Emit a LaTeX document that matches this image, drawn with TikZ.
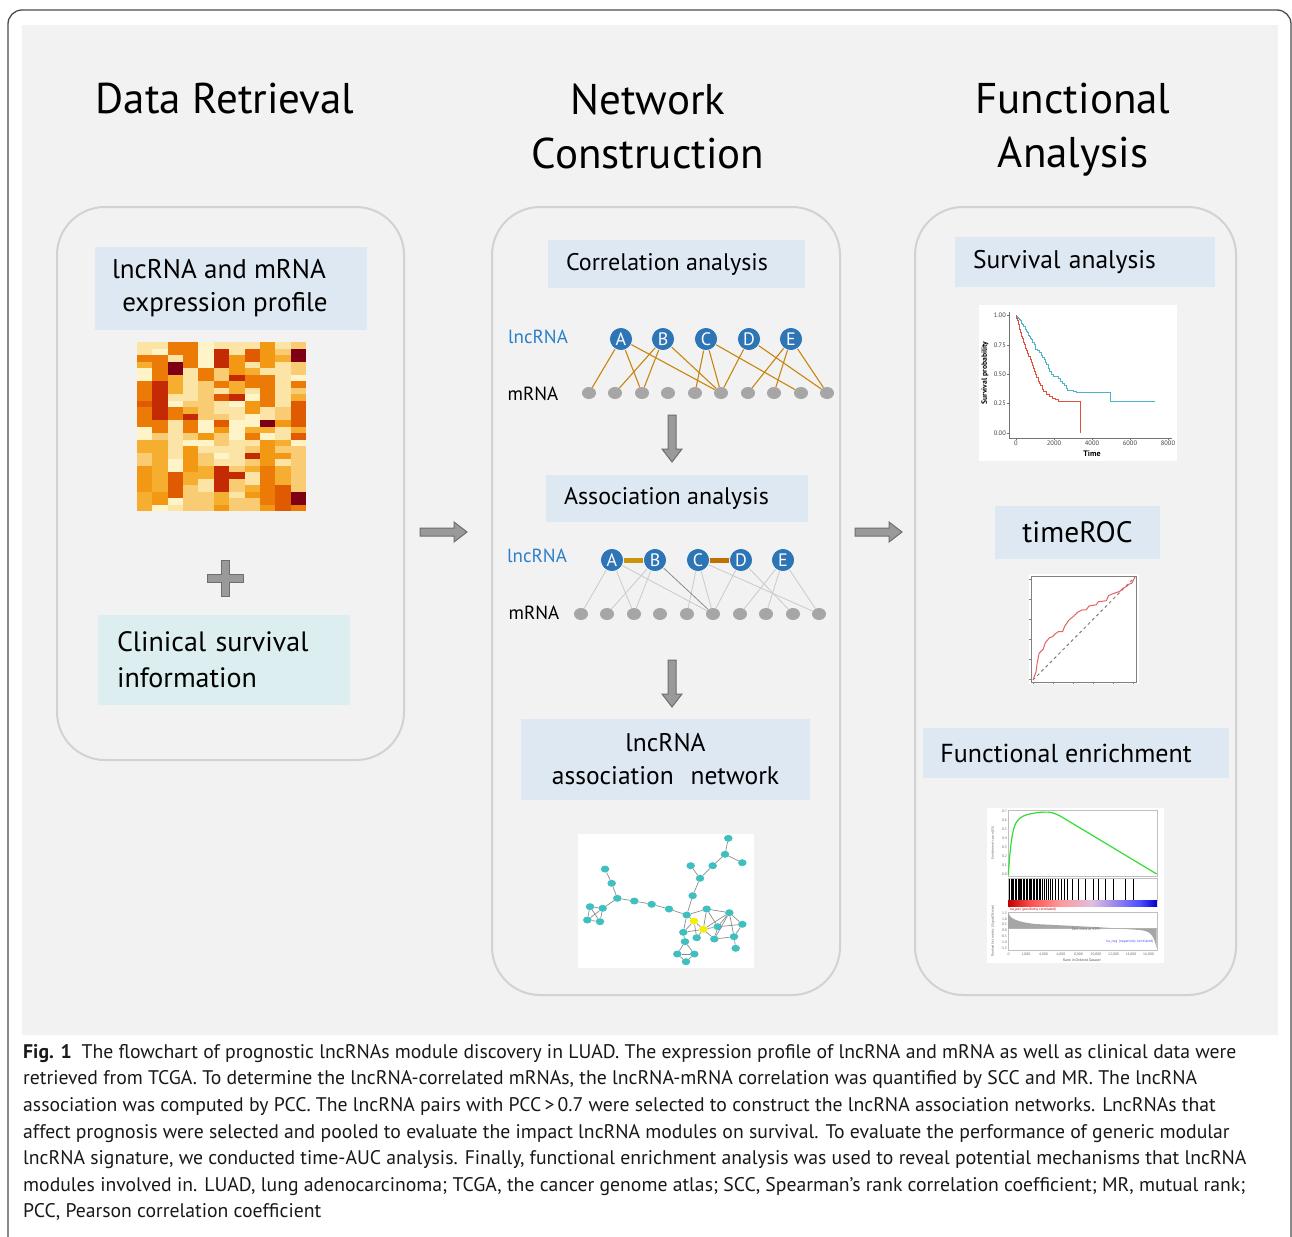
\documentclass[tikz,border=0pt]{standalone}
\usepackage{fontspec}
\setmainfont{PT Sans}
\usetikzlibrary{shapes.geometric}

\definecolor{panelgray}{HTML}{F2F2F2}
\definecolor{boxline}{HTML}{D2D2D2}
\definecolor{labelblue}{HTML}{DDE8F3}
\definecolor{labelcyan}{HTML}{DCEEF0}
\definecolor{nodeblue}{HTML}{2E75B6}
\definecolor{lncblue}{HTML}{2A7FC9}
\definecolor{edgeorange}{HTML}{C8860F}
\definecolor{bargold}{HTML}{C8960A}
\definecolor{barorange}{HTML}{C07000}
\definecolor{dotgray}{HTML}{A6A6A6}
\definecolor{lightedge}{HTML}{CACACA}
\definecolor{arrowfill}{HTML}{9A9A9A}
\definecolor{arrowline}{HTML}{6E6E6E}
\definecolor{kmblue}{HTML}{4FB3C8}
\definecolor{kmred}{HTML}{E0503C}
\definecolor{rocred}{HTML}{E36464}
\definecolor{gteal}{HTML}{3FBFC0}
\definecolor{gyellow}{HTML}{F2F200}
\definecolor{gseagreen}{HTML}{33DD33}
% heat map palette, pale to dark
\definecolor{hm1}{HTML}{FFF3C8}
\definecolor{hm2}{HTML}{FCE3A6}
\definecolor{hm3}{HTML}{F9CB72}
\definecolor{hm4}{HTML}{F6AE30}
\definecolor{hm5}{HTML}{F39812}
\definecolor{hm6}{HTML}{EC7A06}
\definecolor{hm7}{HTML}{E05A02}
\definecolor{hm8}{HTML}{C42A04}
\definecolor{hm9}{HTML}{7D0014}

\tikzset{
  frameline/.style={draw=black!70, line width=1.3pt, rounded corners=14pt},
  stagebox/.style={draw=boxline, line width=2pt, rounded corners=48pt, inner sep=0pt},
  stagetitle/.style={font=\fontsize{43}{54}\selectfont, align=center, inner sep=0pt},
  lbl/.style={fill=labelblue, inner sep=0pt, font=\fontsize{25.5}{33}\selectfont, align=center},
  lncnode/.style={circle, fill=nodeblue, draw=white, line width=0.6pt, minimum size=23pt, inner sep=0pt,
                  text=white, font=\fontsize{18}{18}\selectfont},
  mdot/.style={ellipse, fill=dotgray, minimum width=14pt, minimum height=12pt, inner sep=0pt},
  rowlabel/.style={font=\fontsize{19}{19}\selectfont, inner sep=0pt},
  corredge/.style={draw=edgeorange, line width=1.1pt},
  assocedge/.style={draw=lightedge, line width=0.8pt},
  gnode/.style={ellipse, minimum width=8.5pt, minimum height=7pt, inner sep=0pt},
  gedge/.style={draw=black!45, line width=0.7pt},
  ticklab/.style={font=\fontsize{6.5}{7}\selectfont, text=black!75, inner sep=1pt},
  tinylab/.style={font=\fontsize{3.6}{4}\selectfont, text=black!60, inner sep=0.5pt},
  blockarrow/.pic={
    \filldraw[fill=arrowfill, draw=arrowline, line width=1pt]
      (0,-4) -- (34,-4) -- (34,-10) -- (47,0) -- (34,10) -- (34,4) -- (0,4) -- cycle;
  },
}

\begin{document}
\begin{tikzpicture}[x=1pt,y=-1pt]
\useasboundingbox (0,0) rectangle (1292,1236);
\fill[white] (0,0) rectangle (1292,1236);

% outer frame and grey panel
\draw[frameline] (8,1250) -- (8,10) -- (1291,10) -- (1291,1250);
\fill[panelgray] (22,25) rectangle (1278,1035);

% ---------- stage titles ----------
\node[stagetitle] (tData) at (225,99) {Data Retrieval};
\node[stagetitle] (tNet)  at (648,126) {Network\\Construction};
\node[stagetitle] (tFun)  at (1073,130) {Functional\\Analysis};

% ---------- stage boxes ----------
\node[stagebox, minimum width=347pt, minimum height=553pt] (boxData) at (230.5,483.5) {};
\node[stagebox, minimum width=348pt, minimum height=788pt] (boxNet)  at (666,601) {};
\node[stagebox, minimum width=321pt, minimum height=788pt] (boxFun)  at (1075.5,601) {};

% ---------- data retrieval ----------
\node[lbl, font=\fontsize{27}{33}\selectfont, minimum width=272pt, minimum height=83pt] (lbExpr) at (231,288)
  {lncRNA and mRNA\hspace*{24pt}\\expression profile\hspace*{12pt}};

% expression heat map
\pgfmathsetseed{23}
\foreach \c in {0,...,10}{
  \xdef\hmprev{2}
  \foreach \r in {0,...,25}{
    \pgfmathrandominteger{\hmroll}{0}{9}
    \ifnum\hmroll<6
      \pgfmathrandominteger{\hmk}{0}{29}
      \pgfmathtruncatemacro\hmnew{{1,1,1,1,2,2,2,2,2,2,3,3,3,3,4,4,4,4,5,5,5,5,6,6,6,7,7,3,8,9}[\hmk]}
      \xdef\hmprev{\hmnew}
    \fi
    \fill[hm\hmprev] (137+\c*15.36, 342+\r*6.5) rectangle ++(15.6,6.7);
  }
}

% plus sign
\node[inner sep=0pt] (plus) at (225,578) {};
\filldraw[fill=arrowfill, draw=arrowline, line width=1pt]
  (221,560) -- (229,560) -- (229,574) -- (243,574) -- (243,582) -- (229,582) -- (229,596)
  -- (221,596) -- (221,582) -- (207,582) -- (207,574) -- (221,574) -- cycle;

\node[lbl, fill=labelcyan, font=\fontsize{28}{36}\selectfont, minimum height=90pt, text width=214pt,
  inner xsep=19pt, align=left] (lbClin) at (224,660) {Clinical survival\\information};

% ---------- stage arrows ----------
\coordinate (arrA) at (420,532);
\coordinate (arrB) at (855,532);
\pic at (arrA) {blockarrow};
\pic at (arrB) {blockarrow};

% ---------- network construction ----------
\node[lbl, font=\fontsize{24}{30}\selectfont, minimum width=257pt, minimum height=48pt] (lbCorr)
  at (676.5,264) {Correlation analysis\hspace*{19pt}};

\node[rowlabel, text=lncblue] (cLnc) at (538,337) {lncRNA};
\node[rowlabel] (cMrna) at (533,394) {mRNA};
\foreach \n/\x in {A/621,B/663,C/706,D/749,E/791}
  \node[lncnode] (c\n) at (\x,339) {\n};
\foreach \i/\x in {1/589,2/615,3/642,4/668,5/695,6/721,7/748,8/774,9/801,10/827}
  \node[mdot] (cm\i) at (\x,393) {};
\foreach \a/\b in {A/1,A/3,A/6,B/2,B/3,B/6,C/5,C/6,C/9,D/6,D/10,E/7,E/8,E/10}
  \draw[corredge] (c\a) -- (cm\b);

\coordinate (downA) at (672,415);
\pic[rotate=-90] at (downA) {blockarrow};

\node[lbl, font=\fontsize{24}{30}\selectfont, minimum width=262pt, minimum height=47pt] (lbAssoc)
  at (677,498.5) {Association analysis\hspace*{21pt}};

\node[rowlabel, text=lncblue] (aLnc) at (537,556) {lncRNA};
\node[rowlabel] (aMrna) at (534,613) {mRNA};
\foreach \n/\x in {A/612,B/655,C/698,D/741,E/783}
  \node[lncnode] (a\n) at (\x,560) {\n};
\foreach \i/\x in {1/581,2/607,3/634,4/660,5/687,6/713,7/740,8/766,9/793,10/819}
  \node[mdot] (am\i) at (\x,614) {};
\foreach \a/\b in {A/1,A/3,A/6,B/2,B/3,C/5,C/6,C/10,D/6,D/9,E/7,E/8,E/10}
  \draw[assocedge] (a\a) -- (am\b);
\draw[assocedge, draw=black!45] (aB) -- (am6);
\draw[draw=bargold, line width=5pt] (aA) -- (aB);
\draw[draw=barorange, line width=5pt] (aC) -- (aD);

\coordinate (downB) at (672,660);
\pic[rotate=-90] at (downB) {blockarrow};

\node[lbl, minimum width=289pt, minimum height=81pt] (lbNet) at (665.5,759.5)
  {lncRNA\\association\hspace{10pt} network};

% lncRNA association network
\fill[white] (578,834) rectangle (754,968);
\foreach \n/\x/\y/\c in {
  1/605/869/gteal, 2/611.7/883.3/gteal, 3/617.3/898.3/gteal, 4/590/906.7/gteal,
  5/602.7/908.3/gteal, 6/587.3/920/gteal, 7/600/921.7/gteal, 8/634.3/901/gteal,
  9/651.7/904.3/gteal, 10/669/909/gteal, 11/686.7/915/gteal, 12/692.7/895.7/gteal,
  13/700/878.3/gteal, 14/690.7/865.7/gteal, 15/712.7/865.7/gteal, 16/725/854.3/gteal,
  17/728.3/838.3/gteal, 18/742.3/862.7/gteal, 19/706.7/909/gteal, 20/694/921/gyellow,
  21/703.3/929.3/gyellow, 22/683.3/932.3/gteal, 23/696.7/937.7/gteal, 24/717.7/926.7/gteal,
  25/729.3/912.7/gteal, 26/742.3/924.3/gteal, 27/714.3/939/gteal, 28/734/936.7/gteal,
  29/735.7/948.3/gteal, 30/685/941.7/gteal, 31/677.3/954/gteal, 32/694.3/954/gteal,
  33/686/961.7/gteal}
  \node[gnode, fill=\c] (g\n) at (\x,\y) {};
\foreach \a/\b in {1/2,2/3,3/5,3/8,4/5,4/6,4/7,5/6,5/7,6/7,8/9,9/10,10/11,11/12,12/13,
  13/14,13/15,15/16,16/17,16/18,11/19,11/20,11/22,20/21,19/25,19/24,20/22,21/22,21/23,
  21/24,21/25,24/25,25/26,24/26,24/27,25/27,27/28,25/28,28/29,26/28,22/30,30/31,30/32,
  31/32,31/33,32/33,21/27,20/23,19/21}
  \draw[gedge] (g\a) -- (g\b);

% ---------- functional analysis ----------
\node[lbl, minimum height=50pt, text width=224pt, inner xsep=18pt, align=left]
  (lbSurv) at (1085,262) {Survival analysis};

% Kaplan-Meier plot
\fill[white] (979,305) rectangle (1177,461);
\draw[black!55, line width=0.6pt] (1009,312) -- (1009,438) -- (1172,438);
\foreach \v/\yy in {1.00/315,0.75/345,0.50/374,0.25/403,0.00/433}{
  \draw[black!55, line width=0.6pt] (1007,\yy) -- (1009,\yy);
  \node[ticklab, anchor=east] at (1007,\yy) {\v};
}
\foreach \t in {0,2000,4000,6000,8000}{
  \draw[black!55, line width=0.6pt] (1016+\t*0.019,438) -- (1016+\t*0.019,440);
  \node[ticklab, anchor=north] at (1016+\t*0.019,440) {\t};
}
\node[font=\bfseries\fontsize{8}{8}\selectfont, inner sep=0pt] (kmTime) at (1092,453.5) {Time};
\node[font=\bfseries\fontsize{7.6}{8}\selectfont, inner sep=0pt, rotate=90] (kmY) at (985,373) {Survival probability};
\begin{scope}[shift={(1016,433)}, x=0.019pt, y=118pt]
  \draw[kmblue, line width=1pt] (0,1) -| (50,.99) -| (100,.98) -| (150,.97) -| (200,.96) -| (260,.95)
    -| (300,.93) -| (360,.92) -| (420,.90) -| (480,.88) -| (540,.86) -| (600,.85) -| (650,.83)
    -| (700,.82) -| (760,.80) -| (820,.79) -| (880,.77) -| (950,.75) -| (1000,.73) -| (1050,.71)
    -| (1150,.70) -| (1250,.68) -| (1320,.66) -| (1400,.64) -| (1480,.62) -| (1550,.60)
    -| (1620,.58) -| (1700,.55) -| (1780,.52) -| (1850,.50) -| (1950,.48) -| (2250,.46)
    -| (2350,.44) -| (2450,.42) -| (2550,.40) -| (2650,.38) -| (2700,.36) -| (3000,.35)
    -| (3200,.34) -| (4950,.27) -- (7300,.27);
  \draw[kmred, line width=1pt] (0,1) -| (40,.97) -| (80,.95) -| (120,.92) -| (160,.90) -| (200,.88)
    -| (250,.85) -| (300,.82) -| (350,.80) -| (400,.77) -| (450,.75) -| (500,.72) -| (560,.70)
    -| (620,.67) -| (680,.65) -| (740,.62) -| (800,.60) -| (860,.57) -| (920,.55) -| (980,.52)
    -| (1040,.50) -| (1100,.47) -| (1160,.44) -| (1220,.42) -| (1300,.40) -| (1380,.37)
    -| (1460,.35) -| (1600,.33) -| (1750,.31) -| (1900,.29) -| (2100,.28) -| (2250,.27)
    -| (3370,0);
\end{scope}

\node[lbl, font=\fontsize{29.5}{33}\selectfont, minimum width=165pt, minimum height=53pt] (lbROC)
  at (1077.5,532) {timeROC};

% time-dependent ROC curve
\fill[white] (1029,574) rectangle (1139,684);
\draw[black!50, line width=0.6pt] (1031,576) rectangle (1136,682);
\foreach \k in {0,...,5}{
  \draw[black!50, line width=0.5pt] (1033+\k*20,682) -- (1033+\k*20,684);
  \draw[black!50, line width=0.5pt] (1031,679-\k*20) -- (1029,679-\k*20);
}
\draw[black!50, line width=1pt, dash pattern=on 3pt off 3pt] (1033,680) -- (1135,577);
\begin{scope}[shift={(1033,680)}, x=102pt, y=103pt]
  \draw[rocred, line width=1pt] (0,0) -- (0.03,0.08) -- (0.04,0.16) -- (0.06,0.26) -- (0.1,0.3)
    -- (0.12,0.36) -- (0.16,0.41) -- (0.19,0.42) -- (0.22,0.45) -- (0.25,0.47) -- (0.29,0.47)
    -- (0.31,0.52) -- (0.35,0.58) -- (0.4,0.62) -- (0.44,0.66) -- (0.48,0.68) -- (0.52,0.68)
    -- (0.55,0.72) -- (0.62,0.73) -- (0.64,0.76) -- (0.72,0.77) -- (0.74,0.82) -- (0.79,0.84)
    -- (0.85,0.86) -- (0.88,0.89) -- (0.92,0.91) -- (0.94,0.93) -- (0.97,0.94) -- (1,1);
\end{scope}

\node[lbl, font=\fontsize{26}{30}\selectfont, minimum width=306pt, minimum height=50pt] (lbFunc)
  at (1076,753) {Functional enrichment\hspace*{20pt}};

% GSEA enrichment plot
\fill[white] (987,808) rectangle (1164,963);
\draw[black!25, line width=0.4pt] (1008,810) rectangle (1157,876);
\foreach \v [count=\k from 0] in {0.7,0.6,0.5,0.4,0.3,0.2,0.1,0.0}
  \node[tinylab, anchor=east] at (1007.5,811+\k*9.1) {\v};
\draw[gseagreen, line width=1.2pt] (1008.3,875) .. controls (1010,850) and (1012,828) .. (1016.7,821.7)
  .. controls (1020,816.5) and (1026,814.5) .. (1032,813.5)
  .. controls (1040,812) and (1048,811.5) .. (1052,812.7)
  .. controls (1058,814.5) and (1062,817) .. (1064,818.3) -- (1156.7,874);
\draw[black!25, line width=0.4pt] (1008,878) rectangle (1157,900);
\foreach \xx in {1009.5,1011,1012.2,1013.5,1015,1016.3,1017.8,1019,1020.3,1021.6,1023,1024.5,1026,
  1027.2,1028.8,1030.1,1031.5,1033,1034.3,1035.8,1037.5,1039,1040.6,1042.4,1044,1046,1048,1050,
  1052.5,1055,1058,1061,1064,1067,1072,1078,1085,1093,1098,1105,1113,1125,1133}
  \draw[black, line width=0.45pt] (\xx,879) -- (\xx,900);
\shade[left color=red!75!black, right color=red!70] (1008,900) rectangle (1030,906);
\shade[left color=red!70, right color=pink!80!red] (1030,900) rectangle (1060,906);
\shade[left color=pink!80!red, right color=violet!25] (1060,900) rectangle (1092,906);
\shade[left color=violet!25, right color=blue!70] (1092,900) rectangle (1140,906);
\shade[left color=blue!70, right color=blue!80!black] (1140,900) rectangle (1157,906);
\node[tinylab, text=red!70!black, anchor=west] at (1009,909) {`na\_pos' (positively correlated)};
\draw[black!25, line width=0.4pt] (1008,912) rectangle (1157,950);
\fill[black!35] (1008,928) -- (1008,913) .. controls (1010,919) and (1018,922) .. (1035,924)
  -- (1100,927.3) -- (1140,930) .. controls (1150,931) and (1154,935) .. (1156.5,948) -- (1156.5,928) -- cycle;
\draw[black!30, line width=0.3pt] (1008,928) -- (1157,928);
\node[tinylab] at (1086,929.5) {Zero cross at 4395};
\node[tinylab, text=blue!70, anchor=east] at (1154,941) {`na\_neg' (negatively correlated)};
\foreach \v [count=\k from 0] in {1.5,1.0,0.5,0.0,-0.5,-1.0,-1.5}
  \node[tinylab, anchor=east] at (1007.5,913+\k*5.8) {\v};
\foreach \t [count=\k from 0] in {0,{2,000},{4,000},{6,000},{8,000},{10,000},{12,000},{14,000},{16,000}}
  \node[tinylab] at (1008.5+\k*17.5,954.5) {\t};
\node[tinylab, text=black!70] (gseaX) at (1082,960.5) {Rank in Ordered Dataset};
\node[tinylab, rotate=90] (gseaY1) at (993,843) {Enrichment score (ES)};
\node[tinylab, rotate=90] (gseaY2) at (993,931) {Ranked list metric (Signal2Noise)};

% ---------- caption ----------
\node[anchor=north west, inner sep=0pt, align=left, font=\fontsize{19.7}{26.6}\selectfont, text=black!90]
  (caption) at (23,1044) {%
  \textbf{Fig. 1}\enspace The flowchart of prognostic lncRNAs module discovery in LUAD. The expression profile of lncRNA and mRNA as well as clinical data were\\
  retrieved from TCGA. To determine the lncRNA-correlated mRNAs, the lncRNA-mRNA correlation was quantified by SCC and MR. The lncRNA\\
  association was computed by PCC. The lncRNA pairs with PCC\,>\,0.7 were selected to construct the lncRNA association networks. LncRNAs that\\
  affect prognosis were selected and pooled to evaluate the impact lncRNA modules on survival. To evaluate the performance of generic modular\\
  lncRNA signature, we conducted time-AUC analysis. Finally, functional enrichment analysis was used to reveal potential mechanisms that lncRNA\\
  modules involved in. LUAD, lung adenocarcinoma; TCGA, the cancer genome atlas; SCC, Spearman’s rank correlation coefficient; MR, mutual rank;\\
  PCC, Pearson correlation coefficient};
\end{tikzpicture}
\end{document}
